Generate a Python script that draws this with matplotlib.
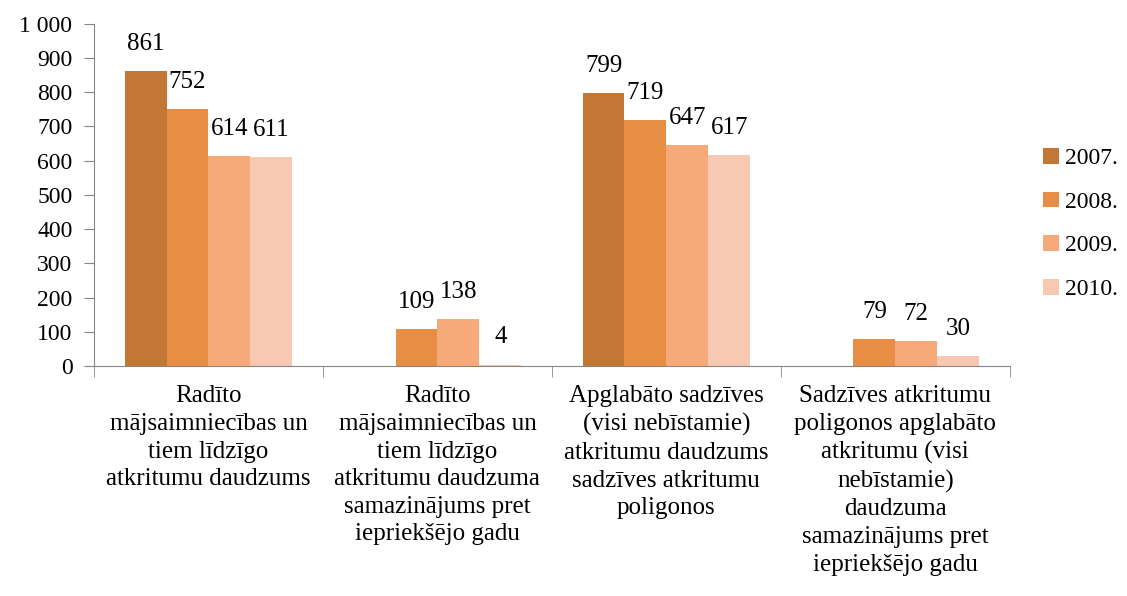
import matplotlib.pyplot as plt
import numpy as np
from matplotlib.patches import Patch
from matplotlib.ticker import FuncFormatter

# data
categories = ['Radīto\nmājsaimniecības un\ntiem līdzīgo\natkritumu daudzums',
              'Radīto\nmājsaimniecības un\ntiem līdzīgo\natkritumu daudzuma\nsamazinājums pret\niepriekšējo gadu',
              'Apglabāto sadzīves\n(visi nebīstamie)\natkritumu daudzums\nsadzīves atkritumu\npoligonos',
              'Sadzīves atkritumu\npoligonos apglabāto\natkritumu (visi\nnebīstamie)\ndaudzuma\nsamazinājums pret\niepriekšējo gadu']
years = ['2007.', '2008.', '2009.', '2010.']
v2007 = [861, np.nan, 799, np.nan]
v2008 = [752, 109, 719, 79]
v2009 = [614, 138, 647, 72]
v2010 = [611, 4, 617, 30]
colors = ['#C37734', '#E88D44', '#F6AA7A', '#F8C9B2']

plt.rcParams['font.family'] = ['Liberation Serif', 'DejaVu Serif']

fig = plt.figure(figsize=(11.27, 5.96), dpi=100)
ax = fig.add_axes([0.0834, 0.386, 0.8126, 0.574])

series = [v2007, v2008, v2009, v2010]
x = np.arange(len(categories))
w = 0.183
for i, vals in enumerate(series):
    pos = x + (i - 1.5) * w
    ax.bar(pos, vals, width=w, color=colors[i], edgecolor='none', zorder=2)
    for p, v in zip(pos, vals):
        if np.isnan(v):
            continue
        ax.annotate(str(int(v)), (p, v), xytext=(0, 19.5), textcoords='offset points',
                    ha='center', va='center', fontsize=18, color='black')

ax.set_xlim(-0.5, len(categories) - 0.5)
ax.set_ylim(0, 1000)
ax.set_yticks(np.arange(0, 1001, 100))
ax.yaxis.set_major_formatter(FuncFormatter(lambda v, _: '{:,}'.format(int(v)).replace(',', ' ')))
ax.tick_params(axis='y', labelsize=17, length=7, color='#868686', pad=8.5)

ax.set_xticks(x)
ax.set_xticklabels(categories, fontsize=18, linespacing=1.33, va='top')
ax.tick_params(axis='x', which='major', length=0, pad=14)
ax.set_xticks(np.arange(-0.5, len(categories)), minor=True)
ax.tick_params(axis='x', which='minor', length=8, color='#868686')

for s in ['top', 'right']:
    ax.spines[s].set_visible(False)
for s in ['left', 'bottom']:
    ax.spines[s].set_color('#868686')

handles = [Patch(facecolor=c, edgecolor='none') for c in colors]
fig.legend(handles, years, loc='center left', bbox_to_anchor=(0.907, 0.624),
           frameon=False, fontsize=17, handlelength=0.65, handleheight=0.65,
           handletextpad=0.25, labelspacing=0.95)

fig.savefig('out.png', dpi=100)
